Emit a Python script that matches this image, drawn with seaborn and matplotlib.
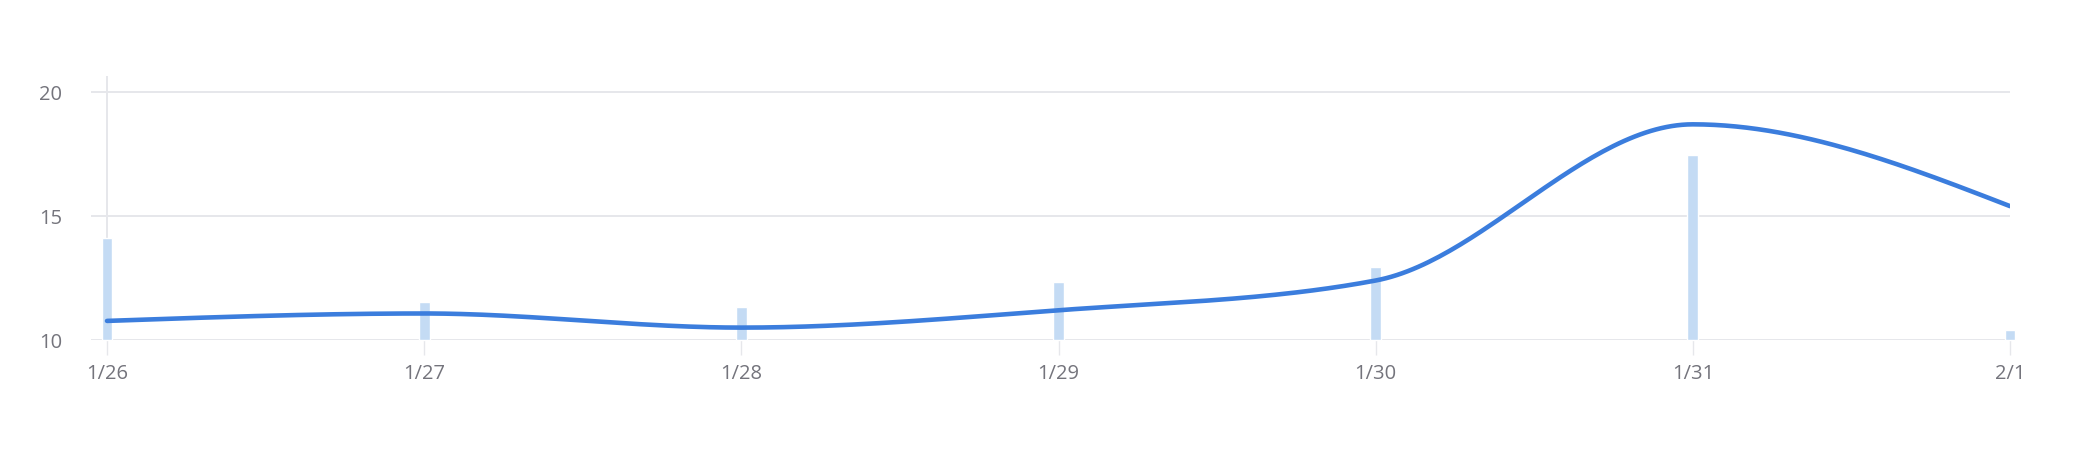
import numpy as np
import pandas as pd
import matplotlib
matplotlib.use("Agg")
import matplotlib.pyplot as plt
import seaborn as sns

# values
dates = ["1/26", "1/27", "1/28", "1/29", "1/30", "1/31", "2/1"]
bar_values = [14.1, 11.55, 11.35, 12.35, 12.95, 17.45, 10.4]
line_values = [10.77, 11.07, 10.5, 11.2, 12.4, 18.7, 15.4]
y_ticks = [10, 15, 20]

LINE_COLOR = "#3b7ddd"
BAR_COLOR = "#c4dbf4"
GRID_COLOR = "#e6e7eb"
TEXT_COLOR = "#74747c"


def monotone_curve(xs, ys, n=60):
    # monotone cubic (same idea as d3 curveMonotoneX)
    xs = np.asarray(xs, float)
    ys = np.asarray(ys, float)
    h = np.diff(xs)
    s = np.diff(ys) / h
    m = np.zeros_like(ys)
    for i in range(1, len(ys) - 1):
        p = (s[i - 1] * h[i] + s[i] * h[i - 1]) / (h[i - 1] + h[i])
        m[i] = (np.sign(s[i - 1]) + np.sign(s[i])) * min(abs(s[i - 1]), abs(s[i]), 0.5 * abs(p))
    m[0] = (3 * s[0] - m[1]) / 2
    m[-1] = (3 * s[-1] - m[-2]) / 2
    out_x, out_y = [], []
    for i in range(len(h)):
        t = np.linspace(0, 1, n, endpoint=(i == len(h) - 1))
        h00 = 2 * t**3 - 3 * t**2 + 1
        h10 = t**3 - 2 * t**2 + t
        h01 = -2 * t**3 + 3 * t**2
        h11 = t**3 - t**2
        out_x.append(xs[i] + t * h[i])
        out_y.append(h00 * ys[i] + h10 * h[i] * m[i] + h01 * ys[i + 1] + h11 * h[i] * m[i + 1])
    return np.concatenate(out_x), np.concatenate(out_y)


day_idx = np.arange(len(dates))
bars_df = pd.DataFrame({"day": day_idx, "value": bar_values})
cx, cy = monotone_curve(day_idx, line_values)
curve_df = pd.DataFrame({"day": cx, "value": cy})

sns.set_theme(style="white")
plt.rcParams["font.family"] = ["Open Sans", "DejaVu Sans"]

fig = plt.figure(figsize=(20.77, 4.54), dpi=100)
ax = fig.add_axes([91 / 2077, 1 - 340 / 454, (2010 - 91) / 2077, (340 - 76) / 454])

for y in y_ticks:
    ax.axhline(y, color=GRID_COLOR, lw=1.4, zorder=0)
ax.axvline(0, color=GRID_COLOR, lw=1.4, zorder=0)

sns.barplot(data=bars_df, x="day", y="value", native_scale=True, width=0.034,
            color=BAR_COLOR, saturation=1, ax=ax, zorder=1)
ax.set_ylim(10, 20.65)
# bars start at the bottom of the axis; let the last one show past the right edge
for patch in ax.patches:
    patch.set_y(10)
    patch.set_height(patch.get_height() - 10)
    patch.set_clip_on(False)

sns.lineplot(data=curve_df, x="day", y="value", color=LINE_COLOR, lw=3.3,
             ax=ax, zorder=3, sort=False)

ax.set_xlim(-0.0505, 6.0)
ax.set_ylim(10, 20.65)
ax.set_xticks(day_idx)
ax.set_xticklabels(dates)
ax.set_yticks(y_ticks)
ax.set_xlabel("")
ax.set_ylabel("")
for sp in ax.spines.values():
    sp.set_visible(False)
ax.tick_params(axis="x", length=11, width=1.0, color=GRID_COLOR, pad=6,
               labelsize=14.5, labelcolor=TEXT_COLOR, bottom=True)
ax.tick_params(axis="y", length=0, pad=21, labelsize=14.5, labelcolor=TEXT_COLOR)

fig.savefig("out.png", dpi=100)
